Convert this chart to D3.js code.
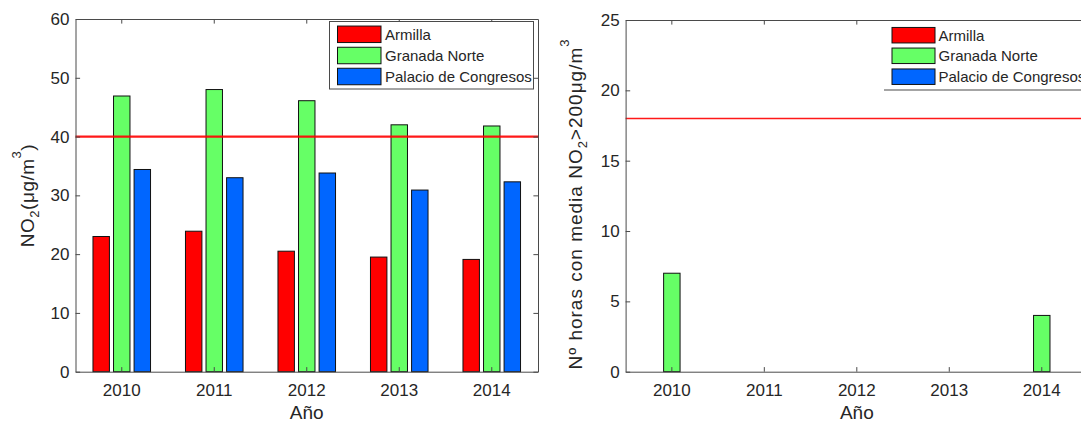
<!DOCTYPE html>
<html>
<head>
<meta charset="utf-8">
<script src="https://cdn.jsdelivr.net/npm/d3@7"></script>
<style>
  html, body { margin: 0; padding: 0; background: #fff; }
  svg { display: block; }
  text { font-family: "Liberation Sans", Arial, Helvetica, sans-serif; fill: #262626; }
</style>
</head>
<body>
<svg id="chart" width="1081" height="423"></svg>
<script>
// ---- data ----
const years = ["2010", "2011", "2012", "2013", "2014"];
const seriesNames = ["Armilla", "Granada Norte", "Palacio de Congresos"];
const seriesColors = ["#FF0000", "#66FF66", "#0066FF"];

const no2Armilla = [23.0, 23.9, 20.5, 19.5, 19.1];
const no2Granada = [46.9, 48.0, 46.1, 42.0, 41.8];
const no2Palacio = [34.4, 33.0, 33.8, 30.9, 32.3];
const no2Limit = 40;
const no2Ticks = [0, 10, 20, 30, 40, 50, 60];

const hoursArmilla = [0, 0, 0, 0, 0];
const hoursGranada = [7, 0, 0, 0, 4];
const hoursPalacio = [0, 0, 0, 0, 0];
const hoursLimit = 18;
const hoursTicks = [0, 5, 10, 15, 20, 25];

const svg = d3.select("#chart");
const axisColor = "#4a4a4a";
const tickLen = 4.6;

function drawPanel(cfg) {
  const { x0, x1, y0, y1, yMax, yTicks, values, limit, limitWidth, legend, yLabelParts, yLabelPos, yLabelSpacing } = cfg;
  const g = svg.append("g");
  const x = d3.scaleBand().domain(years).range([x0, x1]).paddingInner(0).paddingOuter(0);
  const y = d3.scaleLinear().domain([0, yMax]).range([y1, y0]);
  const bw = x.bandwidth();
  const gw = bw * 0.6667;
  const xs = d3.scaleBand().domain(seriesNames).range([bw / 2 - gw / 2, bw / 2 + gw / 2]).paddingInner(0.2).paddingOuter(0.1);

  // bars
  seriesNames.forEach((s, si) => {
    g.append("g").selectAll("rect").data(values[si]).join("rect")
      .attr("x", (d, i) => x(years[i]) + xs(s))
      .attr("y", d => y(d))
      .attr("width", xs.bandwidth())
      .attr("height", d => y(0) - y(d))
      .attr("fill", seriesColors[si])
      .attr("stroke", "#111")
      .attr("stroke-width", 1);
  });

  // limit line
  g.append("line")
    .attr("x1", x0).attr("x2", x1)
    .attr("y1", y(limit)).attr("y2", y(limit))
    .attr("stroke", "#FF0000").attr("stroke-width", limitWidth).attr("stroke-opacity", 0.9);

  // axes
  const fontTick = "17px";
  const ax = g.append("g").attr("transform", `translate(0,${y1})`)
    .call(d3.axisBottom(x).tickSize(-tickLen).tickSizeOuter(0).tickPadding(12));
  const al = g.append("g").attr("transform", `translate(${x0},0)`)
    .call(d3.axisLeft(y).tickValues(yTicks).tickSize(-tickLen).tickSizeOuter(0).tickPadding(6));
  const at = g.append("g").attr("transform", `translate(0,${y0})`)
    .call(d3.axisTop(x).tickSize(-tickLen).tickSizeOuter(0).tickFormat(""));
  const ar = g.append("g").attr("transform", `translate(${x1},0)`)
    .call(d3.axisRight(y).tickValues(yTicks).tickSize(-tickLen).tickSizeOuter(0).tickFormat(""));
  [ax, al, at, ar].forEach(a => {
    a.select(".domain").attr("stroke", axisColor);
    a.selectAll(".tick line").attr("stroke", axisColor);
    a.selectAll("text").style("font-size", fontTick).attr("fill", "#262626")
      .style("font-family", '"Liberation Sans", Arial, sans-serif');
  });

  // x label
  g.append("text").attr("x", (x0 + x1) / 2).attr("y", 419)
    .attr("text-anchor", "middle").style("font-size", "19px").text("Año");

  // y label
  const yl = g.append("text")
    .attr("transform", `translate(${yLabelPos[0]},${yLabelPos[1]}) rotate(-90)`)
    .attr("text-anchor", "middle").style("font-size", "19px")
    .style("letter-spacing", yLabelSpacing);
  yLabelParts.forEach(p => {
    const t = yl.append("tspan").text(p.t);
    if (p.sub) t.attr("dy", 5).style("font-size", "13px");
    if (p.after) t.attr("dy", p.after);
    if (p.sup) t.attr("dy", -13).style("font-size", "13px");
  });

  // legend
  const lg = g.append("g");
  if (legend.box) {
    lg.append("rect").attr("x", legend.box[0]).attr("y", legend.box[1])
      .attr("width", legend.box[2]).attr("height", legend.box[3])
      .attr("fill", "#fff").attr("stroke", axisColor).attr("stroke-width", 1);
  }
  if (legend.line) {
    lg.append("rect").attr("x", legend.line[0]).attr("y", y0 + 1)
      .attr("width", legend.line[1] - legend.line[0]).attr("height", legend.line[2] - y0 - 1)
      .attr("fill", "#fff");
    lg.append("line").attr("x1", legend.line[0]).attr("x2", legend.line[1])
      .attr("y1", legend.line[2]).attr("y2", legend.line[2])
      .attr("stroke", axisColor).attr("stroke-width", 1.2);
  }
  seriesNames.forEach((s, i) => {
    const cy = legend.rows[i];
    lg.append("rect").attr("x", legend.sx).attr("y", cy - legend.sh / 2)
      .attr("width", legend.sw).attr("height", legend.sh)
      .attr("fill", seriesColors[i]).attr("stroke", "#111").attr("stroke-width", 1);
    lg.append("text").attr("x", legend.tx).attr("y", cy).attr("dy", "0.36em")
      .style("font-size", "15px").attr("fill", "#111").text(s);
  });
}

drawPanel({
  x0: 75.5, x1: 538, y0: 19, y1: 371.7, yMax: 60, yTicks: no2Ticks,
  values: [no2Armilla, no2Granada, no2Palacio], limit: no2Limit, limitWidth: 2.2,
  legend: { box: [329.5, 21.5, 204, 67.5], sx: 337.5, sw: 43.5, sh: 16.5, tx: 385, rows: [34.3, 55.5, 76.5] },
  yLabelParts: [{ t: "NO" }, { t: "2", sub: true }, { t: "(μg/m", after: -5 }, { t: "3", sup: true }, { t: ")", after: 13 }],
  yLabelPos: [33.5, 195.5], yLabelSpacing: "0.5px"
});

drawPanel({
  x0: 625.6, x1: 1088, y0: 20, y1: 371.7, yMax: 25, yTicks: hoursTicks,
  values: [hoursArmilla, hoursGranada, hoursPalacio], limit: hoursLimit, limitWidth: 1.6,
  legend: { line: [884, 1081, 90], sx: 892, sw: 43, sh: 15.5, tx: 938.5, rows: [35.2, 55.8, 76.7] },
  yLabelParts: [{ t: "Nº horas con media NO" }, { t: "2", sub: true }, { t: ">200μg/m", after: -5 }, { t: "3", sup: true }],
  yLabelPos: [581.5, 204], yLabelSpacing: "1px"
});
</script>
</body>
</html>
